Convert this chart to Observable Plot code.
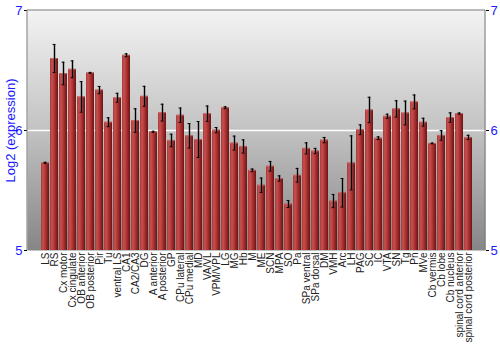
<!DOCTYPE html>
<html>
<head>
<meta charset="utf-8">
<script src="https://cdn.jsdelivr.net/npm/d3@7"></script>
<script src="https://cdn.jsdelivr.net/npm/@observablehq/plot@0.6"></script>
<style>
  html, body { margin: 0; padding: 0; background: #fff; }
  #chart svg { display: block; }
</style>
</head>
<body>
<div id="chart"></div>
<script>
const regions = ["LS","RS","Cx motor","Cx cingulate","OB anterior","OB posterior","Pir","Tu","ventral LS","CA1","CA2/CA3","DG","A anterior","A posterior","GP","CPu lateral","CPu medial","MD","VA/VL","VPM/VPL","LG","MG","Hb","M","ME","SCN","MPA","SO","Pa","SPa ventral","SPa dorsal","DM","VMH","Arc","LH","PAG","SC","IC","VTA","SN","Tg","Pn","MVe","Cb vermis","Cb lobe","Cb nucleus","spinal cord anterior","spinal cord posterior"];
const expression = [5.73,6.60,6.475,6.51,6.28,6.48,6.337,6.069,6.273,6.627,6.083,6.285,5.989,6.149,5.917,6.127,5.956,5.925,6.14,6.003,6.19,5.895,5.867,5.668,5.544,5.702,5.60,5.387,5.627,5.851,5.829,5.92,5.412,5.481,5.73,6.006,6.171,5.936,6.119,6.18,6.146,6.238,6.069,5.892,5.959,6.108,6.141,5.942];
const errors = [0.005,0.117,0.094,0.07,0.127,0.004,0.03,0.037,0.037,0.012,0.098,0.083,0.005,0.07,0.052,0.06,0.102,0.15,0.064,0.022,0.008,0.058,0.055,0.011,0.06,0.04,0.022,0.029,0.057,0.046,0.022,0.022,0.055,0.119,0.225,0.041,0.106,0.011,0.017,0.068,0.099,0.058,0.033,0.003,0.04,0.039,0.005,0.018];
const yTicks = [5, 6, 7];
const yDomain = [5, 7];

const data = regions.map((r, i) => ({region: r, value: expression[i], err: errors[i]}));

const defs = () => {
  const ns = "http://www.w3.org/2000/svg";
  const d = document.createElementNS(ns, "defs");
  d.innerHTML = `
    <linearGradient id="bgGrad" x1="0" y1="0" x2="0" y2="1">
      <stop offset="0%" stop-color="#f3f3f3"/>
      <stop offset="50%" stop-color="#c2c2c2"/>
      <stop offset="100%" stop-color="#868686"/>
    </linearGradient>
    <linearGradient id="barGrad" x1="0" y1="0" x2="1" y2="0">
      <stop offset="0%" stop-color="#a53a3a"/>
      <stop offset="25%" stop-color="#c85050"/>
      <stop offset="55%" stop-color="#b03434"/>
      <stop offset="100%" stop-color="#6a1414"/>
    </linearGradient>`;
  return d;
};

const chart = Plot.plot({
  width: 500,
  height: 350,
  marginLeft: 27,
  marginRight: 15,
  marginTop: 10,
  marginBottom: 100,
  style: {fontFamily: "'Liberation Sans', Arial, sans-serif", background: "#fff"},
  x: {domain: regions, paddingInner: 0.16, paddingOuter: 0.06, axis: null},
  y: {domain: yDomain, axis: null},
  marks: [
    defs,
    Plot.frame({fill: "url(#bgGrad)", stroke: null}),
    Plot.ruleY([6], {stroke: "#ffffff", strokeWidth: 1.6}),
    Plot.barY(data, {x: "region", y1: yDomain[0], y2: "value", fill: "url(#barGrad)"}),
    Plot.tickY(data, {x: "region", y: "value", stroke: "#d87070", strokeWidth: 1, strokeOpacity: 0.7}),
    Plot.ruleX(data, {x: "region", y1: d => d.value - d.err, y2: d => d.value + d.err, stroke: "#555", strokeWidth: 2.5, strokeOpacity: 0.45}),
    Plot.ruleX(data, {x: "region", y1: d => d.value - d.err, y2: d => d.value + d.err, stroke: "#000", strokeWidth: 1}),
    Plot.tickY(data, {x: "region", y: d => d.value + d.err, stroke: "#000", strokeWidth: 1, insetLeft: 2.6, insetRight: 2.6}),
    Plot.tickY(data, {x: "region", y: d => d.value - d.err, stroke: "#000", strokeWidth: 1, insetLeft: 2.6, insetRight: 2.6}),
    Plot.axisY({anchor: "left", ticks: yTicks, tickSize: 3, tickPadding: 2, tickFormat: d3.format("d"), fontSize: 13, color: "#1a1aff", stroke: "#000",
      label: "Log2 (expression)", labelAnchor: "center", labelArrow: "none", labelOffset: 22}),
    Plot.axisY({anchor: "right", ticks: yTicks, tickSize: 3, tickPadding: 2, tickFormat: d3.format("d"), fontSize: 13, color: "#1a1aff", stroke: "#000", label: null}),
    Plot.axisX({anchor: "bottom", tickSize: 0, tickPadding: 2, tickRotate: -90, fontSize: 10, label: null, color: "#222"})
  ]
});

const svg = d3.select(chart);
const w = 500, h = 350;
svg.append("path")
  .attr("d", `M27,${h-100}V10H${w-15}V${h-100}`)
  .attr("fill", "none").attr("stroke", "#777").attr("stroke-width", 1);
svg.selectAll("text").filter(function() { return this.textContent === "Log2 (expression)"; })
  .attr("fill", "#1a1aff").style("font-size", "13px");

document.getElementById("chart").appendChild(chart);
</script>
</body>
</html>
